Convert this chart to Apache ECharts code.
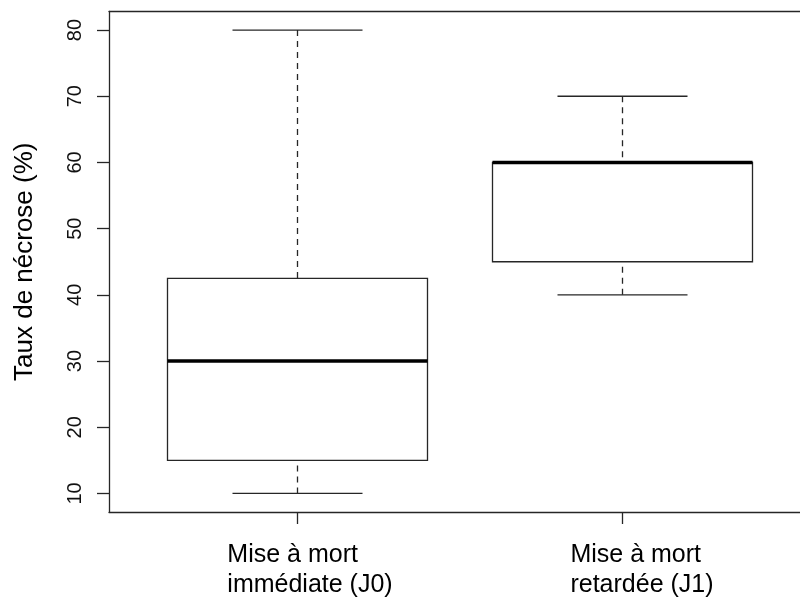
<!DOCTYPE html>
<html><head><meta charset="utf-8">
<script src="https://cdn.jsdelivr.net/npm/echarts@6/dist/echarts.min.js"></script>
<style>html,body{margin:0;padding:0;background:#fff}#c{width:800px;height:601px}</style>
</head><body><div id="c"></div>
<script>
const categories = [['Mise à mort', 'immédiate (J0)'], ['Mise à mort', 'retardée (J1)']];
const positions = [1, 2];
const whiskerLow = [10, 40];
const q1 = [15, 45];
const median = [30, 60];
const q3 = [42.5, 60];
const whiskerHigh = [80, 70];
const yTicks = [10, 20, 30, 40, 50, 60, 70, 80];
const yTitle = 'Taux de nécrose (%)';

const FONT = '"Liberation Sans", Arial, sans-serif';
const INK = '#262626';
const XMIN = 0.42, XMAX = 0.42 + 691 / 325;
const data = positions.map((p, i) => [p, whiskerLow[i], q1[i], median[i], q3[i], whiskerHigh[i]]);

function renderItem(params, api) {
  const x = api.value(0);
  const lo = api.coord([x, api.value(1)]);
  const b1 = api.coord([x, api.value(2)]);
  const md = api.coord([x, api.value(3)]);
  const b3 = api.coord([x, api.value(4)]);
  const hi = api.coord([x, api.value(5)]);
  const bw = api.size([0.8, 0])[0];
  const cw = api.size([0.4, 0])[0];
  const cx = lo[0];
  const ls = {stroke: INK, lineWidth: 1.3};
  const ds = {stroke: INK, lineWidth: 1.3, lineDash: [6, 5]};
  return {type: 'group', children: [
    {type: 'line', shape: {x1: cx, y1: hi[1], x2: cx, y2: b3[1]}, style: ds},
    {type: 'line', shape: {x1: cx, y1: lo[1], x2: cx, y2: b1[1]}, style: ds},
    {type: 'line', shape: {x1: cx - cw / 2, y1: hi[1], x2: cx + cw / 2, y2: hi[1]}, style: ls},
    {type: 'line', shape: {x1: cx - cw / 2, y1: lo[1], x2: cx + cw / 2, y2: lo[1]}, style: ls},
    {type: 'rect', shape: {x: cx - bw / 2, y: b3[1], width: bw, height: b1[1] - b3[1]}, style: {stroke: INK, lineWidth: 1.3, fill: '#fff'}},
    {type: 'line', shape: {x1: cx - bw / 2, y1: md[1], x2: cx + bw / 2, y2: md[1]}, style: {stroke: '#000', lineWidth: 3.5}}
  ]};
}

const frameLine = {show: true, lineStyle: {color: INK, width: 1.3}};
const chart = echarts.init(document.getElementById('c'), null, {renderer: 'canvas'});
chart.setOption({
  animation: false,
  backgroundColor: '#fff',
  textStyle: {fontFamily: FONT},
  grid: {left: 109, right: 0, top: 11.5, bottom: 89, show: false},
  xAxis: [{
    type: 'value', min: XMIN, max: XMAX, position: 'bottom',
    axisLine: frameLine, splitLine: {show: false},
    axisTick: {show: true, customValues: positions, length: 12, lineStyle: {color: INK, width: 1.3}},
    axisLabel: {
      customValues: positions, margin: 28, color: '#000',
      formatter: function (v) {
        const i = positions.indexOf(v);
        if (i < 0) return '';
        const t = 'a' + i;
        return categories[i].map(s => '{' + t + '|' + s + '}').join('\n');
      },
      rich: {
        a0: {fontSize: 25, lineHeight: 30, align: 'left', padding: [0, 0, 0, 25], color: '#000', fontFamily: FONT},
        a1: {fontSize: 25, lineHeight: 30, align: 'left', padding: [0, 0, 0, 39], color: '#000', fontFamily: FONT}
      }
    }
  }, {
    type: 'value', min: XMIN, max: XMAX, position: 'top',
    axisLine: frameLine, splitLine: {show: false}, axisTick: {show: false}, axisLabel: {show: false}
  }],
  yAxis: {
    type: 'value', min: 7.2, max: 82.8,
    name: yTitle, nameLocation: 'middle', nameRotate: 90, nameGap: 71,
    nameTextStyle: {fontSize: 26, color: '#000', fontFamily: FONT},
    axisLine: frameLine, splitLine: {show: false},
    axisTick: {show: true, customValues: yTicks, length: 12, lineStyle: {color: INK, width: 1.3}},
    axisLabel: {customValues: yTicks, rotate: 90, margin: 24, fontSize: 20, color: '#111', fontFamily: FONT}
  },
  series: [{type: 'custom', xAxisIndex: 0, renderItem: renderItem, data: data, encode: {x: 0, y: [1, 2, 3, 4, 5]}, clip: false}]
});
</script>
</body></html>
